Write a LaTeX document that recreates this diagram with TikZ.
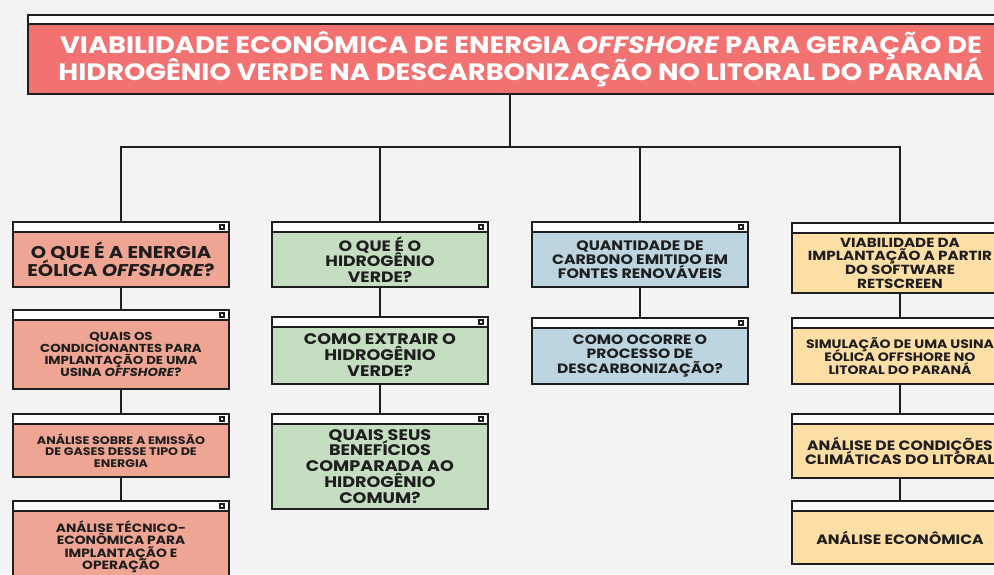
\documentclass[tikz,border=0pt]{standalone}
\usepackage{fontspec}
\setmainfont{Poppins}[FakeStretch=1.15]
\usepackage{pdfrender}
\usetikzlibrary{calc}
\definecolor{bg}{HTML}{F3F3F3}
\definecolor{titlered}{HTML}{F27171}
\definecolor{salmon}{HTML}{EFA593}
\definecolor{sage}{HTML}{C5DDC0}
\definecolor{skyb}{HTML}{BCD5E1}
\definecolor{peach}{HTML}{FDDFA6}
\definecolor{ink}{HTML}{1E1E1E}
\tikzset{
  winbar/.style={draw=ink, line width=2pt, fill=white, inner sep=0pt, anchor=north west},
  winbody/.style={draw=ink, line width=2pt, inner sep=2pt, align=center, text=ink, anchor=north west},
  link/.style={draw=ink, line width=2pt},
}
% #1 name, #2 left, #3 top, #4 body height, #5 colour, #6 font, #7 text
\newcommand\winbox[7]{%
  \node[winbar, minimum width=216pt, minimum height=10pt] (#1-bar) at (#2,#3) {};
  \node[winbody, fill=#5, minimum width=216pt, minimum height=#4pt, font=#6] (#1) at (#2,#3+10) {#7};
  \fill[ink] ($(#1-bar.east)+(-11,-3)$) rectangle ++(6,6);
  \fill[white] ($(#1-bar.east)+(-9,-1)$) rectangle ++(2,2);
}
\newcommand\tightlines{\lineskiplimit=-30pt\relax\lineskip=0pt\relax}
\newcommand\fs[1]{\bfseries\fontsize{#1}{1.04\dimexpr#1pt\relax}\selectfont\tightlines}
\newcommand\titlefs{\bfseries\fontsize{23.7}{26.5}\selectfont\tightlines}
\newcommand\outl[1]{\textpdfrender{TextRenderingMode=FillStroke,LineWidth=1.2,StrokeColor=ink,FillColor=white}{#1}}
\begin{document}
\begin{tikzpicture}[x=1pt,y=-1pt]
\useasboundingbox (0,0) rectangle (994,574);
\fill[bg] (0,0) rectangle (994,574);
\clip (0,0) rectangle (994,574);

% title
\node[winbar, minimum width=974pt, minimum height=9pt] (title-bar) at (27,14) {};
\node[winbody, fill=titlered, text=white, minimum width=974pt, minimum height=70pt, font=\titlefs] (title) at (27,23)
  {\hspace*{12pt}\outl{VIABILIDADE ECONÔMICA DE ENERGIA \textit{OFFSHORE} PARA GERAÇÃO DE}\\
   \hspace*{12pt}\outl{HIDROGÊNIO VERDE NA DESCARBONIZAÇÃO NO LITORAL DO PARANÁ}};

% column 1
\winbox{c1a}{12}{221}{55}{salmon}{\fs{17}}{O QUE É A ENERGIA\\EÓLICA \textit{OFFSHORE}?}
\winbox{c1b}{12}{309}{69}{salmon}{\fs{11.6}}{QUAIS OS\\CONDICIONANTES PARA\\IMPLANTAÇÃO DE UMA\\USINA \textit{OFFSHORE}?}
\winbox{c1c}{12}{413}{53}{salmon}{\fs{11}}{ANÁLISE SOBRE A EMISSÃO\\DE GASES DESSE TIPO DE\\ENERGIA}
\winbox{c1d}{12}{500}{72}{salmon}{\fs{12}}{ANÁLISE TÉCNICO-\\ECONÔMICA PARA\\IMPLANTAÇÃO E\\OPERAÇÃO}
% column 2
\winbox{c2a}{271}{221}{55}{sage}{\fs{15}}{O QUE É O\\HIDROGÊNIO\\VERDE?}
\winbox{c2b}{271}{316}{57}{sage}{\fs{15.3}}{COMO EXTRAIR O\\HIDROGÊNIO\\VERDE?}
\winbox{c2c}{271}{413}{85}{sage}{\fs{15.3}}{QUAIS SEUS\\BENEFÍCIOS\\COMPARADA AO\\HIDROGÊNIO\\COMUM?}
% column 3
\winbox{c3a}{531}{221}{55}{skyb}{\fs{13.7}}{QUANTIDADE DE\\CARBONO EMITIDO EM\\FONTES RENOVÁVEIS}
\winbox{c3b}{531}{317}{56}{skyb}{\fs{13.5}}{COMO OCORRE O\\PROCESSO DE\\DESCARBONIZAÇÃO?}
% column 4
\winbox{c4a}{791}{222}{60}{peach}{\fs{13.2}}{VIABILIDADE DA\\IMPLANTAÇÃO A PARTIR\\DO SOFTWARE\\RETSCREEN}
\winbox{c4b}{791}{317}{56}{peach}{\fs{12.2}}{SIMULAÇÃO DE UMA USINA\\EÓLICA OFFSHORE NO\\LITORAL DO PARANÁ}
\winbox{c4c}{791}{413}{54}{peach}{\fs{13.6}}{ANÁLISE DE CONDIÇÕES\\CLIMÁTICAS DO LITORAL}
\winbox{c4d}{791}{500}{53}{peach}{\fs{13.6}}{ANÁLISE ECONÔMICA}

% connectors
\coordinate (hub) at (510,147);
\draw[link] (title.south -| hub) -- (hub);
\draw[link] (c1a-bar.north) |- (hub) -| (c4a-bar.north);
\draw[link] (c2a-bar.north) -- (c2a-bar.north |- hub);
\draw[link] (c3a-bar.north) -- (c3a-bar.north |- hub);
\draw[link] (c1a.south) -- (c1b-bar.north);
\draw[link] (c1b.south) -- (c1c-bar.north);
\draw[link] (c1c.south) -- (c1d-bar.north);
\draw[link] (c2a.south) -- (c2b-bar.north);
\draw[link] (c2b.south) -- (c2c-bar.north);
\draw[link] (c3a.south) -- (c3b-bar.north);
\draw[link] (c4a.south) -- (c4b-bar.north);
\draw[link] (c4b.south) -- (c4c-bar.north);
\draw[link] (c4c.south) -- (c4d-bar.north);
\end{tikzpicture}
\end{document}
